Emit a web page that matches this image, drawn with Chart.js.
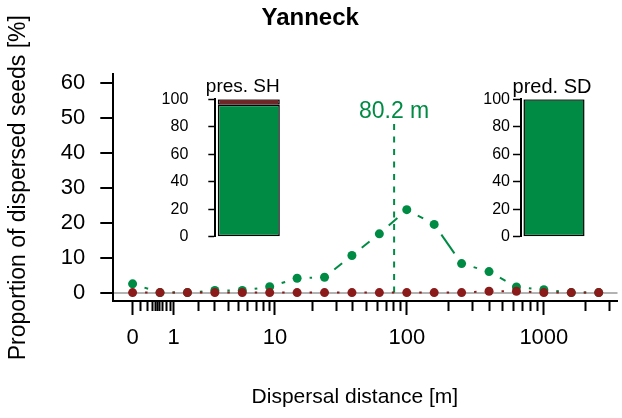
<!DOCTYPE html>
<html>
<head>
<meta charset="utf-8">
<script src="https://cdn.jsdelivr.net/npm/chart.js@4.4.1/dist/chart.umd.min.js"></script>
<style>
  html, body { margin: 0; padding: 0; background: #fff; }
  #wrap { position: relative; width: 622px; height: 418px; }
  canvas { position: absolute; }
</style>
</head>
<body>
<div id="wrap">
  <canvas id="main" width="622" height="418" style="left:0;top:0"></canvas>
  <canvas id="insetSH" width="140" height="180" style="left:150px;top:70px"></canvas>
  <canvas id="insetSD" width="135" height="180" style="left:460px;top:70px"></canvas>
</div>
<script>
// distance classes (class centre in m), one per plotted point
const distClass = [0, 0.645, 1.55, 3, 5.4, 9, 15.7, 24, 39.5, 62, 100, 158, 251, 398, 631, 1000, 1585, 2512];
const greenPct = [2.5, 0, 0, 0.6, 0.6, 1.7, 4.1, 4.4, 10.6, 16.8, 23.7, 19.5, 8.3, 6.0, 1.6, 0.8, 0, 0];
const redPct = [0, 0, 0, 0, 0, 0, 0, 0, 0, 0, 0, 0, 0, 0.4, 0.4, 0, 0, 0];

const xMajor = [0, 1, 10, 100, 1000];
const xMinor = [0.1, 0.2, 0.3, 0.4, 0.5, 0.6, 0.7, 0.8, 0.9,
  2, 3, 4, 5, 6, 7, 8, 9,
  20, 30, 40, 50, 60, 70, 80, 90,
  200, 300, 400, 500, 600, 700, 800, 900,
  2000, 3000];
const yTicks = [0, 10, 20, 30, 40, 50, 60];

const medianDist = 80.2;
const medianTop = 48.4;
const medianLabelY = 51.7;

const insetTicks = [0, 20, 40, 60, 80, 100];
const presSH = [96, 4];   // green, red
const predSD = [100, 0];

const GREEN = "#008B45";
const RED = "#8B1A1A";
const FONT = "Liberation Sans";
const GAP = 12.5; // gap left around points on the connecting lines

Chart.defaults.font.family = FONT;
Chart.defaults.color = "#000";

// position on the class index axis for a distance, log-interpolated between class centres
const ZERO_LOG = Math.log10(0.045);
function classPos(d) {
  if (d <= 0) return 0;
  const lg = distClass.map((c, i) => (i === 0 ? ZERO_LOG : Math.log10(c)));
  const v = Math.log10(d);
  for (let i = 0; i < lg.length - 1; i++) {
    if (v <= lg[i + 1]) return i + (v - lg[i]) / (lg[i + 1] - lg[i]);
  }
  const n = lg.length - 1;
  return n + (v - lg[n]) / (lg[n] - lg[n - 1]);
}

const xTickList = xMajor.map((d) => ({ d, major: true }))
  .concat(xMinor.map((d) => ({ d, major: false })))
  .sort((a, b) => a.d - b.d);

// solid line with a gap around each point (like type = "b")
const segLen = (ctx) => Math.hypot(ctx.p1.x - ctx.p0.x, ctx.p1.y - ctx.p0.y);
const gappedSegment = {
  borderDash: (ctx) => {
    const L = segLen(ctx);
    return [Math.max(L - 2 * GAP, 0), Math.min(2 * GAP, L)];
  },
  borderDashOffset: (ctx) => segLen(ctx) - GAP,
};

function series(values, color, order) {
  return {
    data: values.map((v, i) => ({ x: i, y: v })),
    borderColor: color,
    backgroundColor: color,
    borderWidth: 2,
    pointRadius: 4.5,
    pointBorderWidth: 0,
    pointBackgroundColor: color,
    segment: gappedSegment,
    order,
  };
}

const chartTexts = {
  id: "chartTexts",
  afterDatasetsDraw(chart) {
    const { ctx, scales, chartArea } = chart;
    ctx.save();
    ctx.textAlign = "center";
    ctx.textBaseline = "middle";
    ctx.font = `23px "${FONT}"`;
    ctx.fillStyle = GREEN;
    ctx.fillText(`${medianDist} m`, scales.x.getPixelForValue(classPos(medianDist)),
      scales.y.getPixelForValue(medianLabelY));
    // x axis title, sits a little left of the plot centre as in the original
    ctx.font = `21px "${FONT}"`;
    ctx.fillStyle = "#000";
    ctx.fillText("Dispersal distance [m]", (chartArea.left + chartArea.right) / 2 - 10.5, 397);
    ctx.restore();
  },
};

new Chart(document.getElementById("main"), {
  type: "line",
  data: {
    datasets: [
      series(redPct, RED, 0),
      series(greenPct, GREEN, 1),
      {
        data: [{ x: classPos(medianDist), y: 0 }, { x: classPos(medianDist), y: medianTop }],
        borderColor: GREEN,
        borderWidth: 2,
        borderDash: [6, 6.5],
        pointRadius: 0,
        order: 2,
      },
    ],
  },
  options: {
    responsive: false,
    animation: false,
    events: [],
    layout: { padding: { top: 0, right: 1.7, bottom: 0, left: 0 } },
    plugins: {
      legend: { display: false },
      tooltip: { enabled: false },
      title: {
        display: true,
        text: "Yanneck",
        color: "#000",
        font: { size: 24, weight: "bold" },
        padding: { top: 3.6, bottom: 41.9 },
      },
    },
    scales: {
      x: {
        type: "linear",
        min: -0.704,
        max: 17.686,
        afterBuildTicks: (s) => {
          s.ticks = xTickList.map((t) => ({ value: classPos(t.d), d: t.d, major: t.major }));
        },
        afterFit: (s) => { s.height = 117; },
        ticks: {
          autoSkip: false,
          maxRotation: 0,
          minRotation: 0,
          padding: 9.8,
          font: { size: 22 },
          color: "#000",
          callback: (v, i, ticks) => (ticks[i].major ? String(ticks[i].d) : ""),
        },
        grid: {
          drawOnChartArea: false,
          tickLength: 14,
          tickWidth: 2,
          tickColor: "#000",
          tickBorderDash: (ctx) => (ctx.tick && !ctx.tick.major ? [9, 40] : []),
        },
        border: { display: true, color: "#000", width: 2 },
      },
      y: {
        min: -2.4,
        max: 62.4,
        afterBuildTicks: (s) => { s.ticks = yTicks.map((v) => ({ value: v })); },
        afterFit: (s) => { s.width = 113.3; },
        ticks: { padding: 15, font: { size: 22 }, color: "#000" },
        grid: {
          drawOnChartArea: true,
          color: (ctx) => (ctx.tick && ctx.tick.value === 0 ? "#B3B3B3" : "rgba(0,0,0,0)"),
          lineWidth: 2,
          tickLength: 13,
          tickWidth: 2,
          tickColor: "#000",
        },
        border: { display: true, color: "#000", width: 2 },
        title: {
          display: true,
          text: "Proportion of dispersed seeds [%]",
          font: { size: 23 },
          color: "#000",
          padding: { top: 4.5, bottom: 0 },
        },
      },
    },
  },
  plugins: [chartTexts],
});

const insetTitle = {
  id: "insetTitle",
  afterDraw(chart, args, opts) {
    const { ctx, chartArea } = chart;
    ctx.save();
    ctx.font = `${opts.size}px "${FONT}"`;
    ctx.fillStyle = "#000";
    ctx.textAlign = "center";
    ctx.textBaseline = "middle";
    ctx.fillText(opts.text, (chartArea.left + chartArea.right) / 2 + opts.shift, opts.y);
    ctx.restore();
  },
};

// tickLen is the drawn tick next to the axis; labelGap pushes the labels further out
function makeInset(id, title, values, axisWidth, tickLen, labelGap, padRight, shift, titleSize) {
  const bar = (v, color) => ({
    data: [v],
    backgroundColor: color,
    borderColor: "#000",
    borderWidth: 1.5,
    borderSkipped: false,
    barPercentage: 1 / 1.08,
    categoryPercentage: 1,
  });
  new Chart(document.getElementById(id), {
    type: "bar",
    data: { labels: [title], datasets: [bar(values[0], GREEN), bar(values[1], RED)] },
    options: {
      responsive: false,
      animation: false,
      events: [],
      layout: { padding: { top: 29.3, right: padRight, bottom: 13.3, left: 0 } },
      plugins: {
        legend: { display: false },
        tooltip: { enabled: false },
        insetTitle: { text: title, shift, y: 17, size: titleSize },
      },
      scales: {
        x: { display: false, stacked: true },
        y: {
          stacked: true,
          min: 0,
          max: 100,
          afterBuildTicks: (s) => { s.ticks = insetTicks.map((v) => ({ value: v })); },
          afterFit: (s) => { s.width = axisWidth; },
          ticks: { padding: 3, font: { size: 16 }, color: "#000" },
          grid: {
            drawOnChartArea: false,
            tickLength: tickLen + labelGap,
            tickWidth: 1.5,
            tickColor: "#000",
            tickBorderDash: [tickLen, 100],
            tickBorderDashOffset: tickLen + 100 - labelGap,
          },
          border: { display: true, color: "#000", width: 2 },
        },
      },
    },
    plugins: [insetTitle],
  });
}

makeInset("insetSH", "pres. SH", presSH, 65.3, 7, 17, 7.7, -6, 19);
makeInset("insetSD", "pred. SD", predSD, 61, 8, 0, 8, -2, 20);
</script>
</body>
</html>
